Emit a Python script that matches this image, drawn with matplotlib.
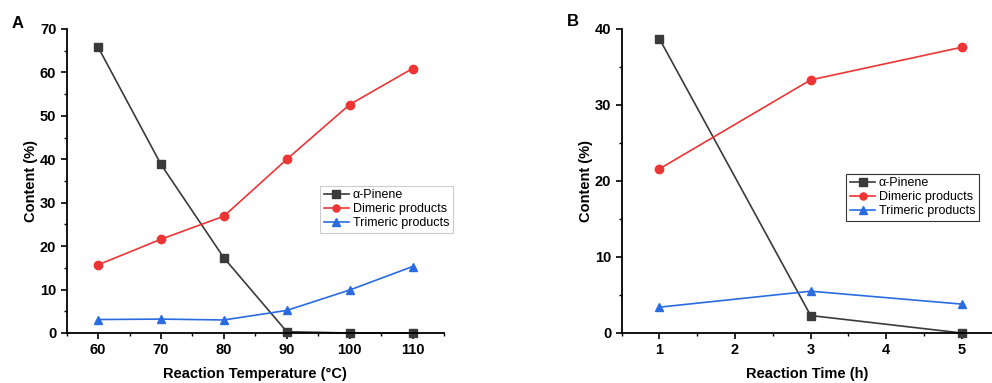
import numpy as np
import matplotlib.pyplot as plt
from matplotlib.ticker import MultipleLocator

plt.rcParams['font.family'] = ['Liberation Sans', 'DejaVu Sans']

# Panel A: Reaktionstemperatur
temp = [60, 70, 80, 90, 100, 110]
pinene_a = [65.8, 38.8, 17.3, 0.3, 0.0, 0.0]
dimer_a = [15.7, 21.6, 26.9, 40.0, 52.6, 60.9]
trimer_a = [3.1, 3.2, 3.0, 5.2, 9.9, 15.3]

# Panel B: Reaktionszeit
time_h = [1, 3, 5]
pinene_b = [38.7, 2.3, 0.0]
dimer_b = [21.6, 33.3, 37.6]
trimer_b = [3.4, 5.5, 3.8]

names = ["\u03b1-Pinene", "Dimeric products", "Trimeric products"]
colors = ['#3a3a3a', '#ee3535', '#2a6ce0']
markers = ['s', 'o', '^']

fig = plt.figure(figsize=(9.92, 3.83), dpi=100)
W, H = 992, 383
axA = fig.add_axes([66.7 / W, 1 - 333 / H, 377.3 / W, 304 / H])
axB = fig.add_axes([621.7 / W, 1 - 333 / H, 370.3 / W, 304 / H])


def style(ax):
    for s in ['top', 'right']:
        ax.spines[s].set_visible(False)
    for s in ['left', 'bottom']:
        ax.spines[s].set_linewidth(1.3)
    ax.tick_params(which='major', direction='out', length=4, width=1.2, labelsize=10.5)
    ax.tick_params(which='minor', direction='out', length=2.5, width=1.0)
    for lab in ax.get_xticklabels() + ax.get_yticklabels():
        lab.set_fontweight('bold')
    ax.set_ylabel("Content (%)", fontsize=10.5, fontweight='bold', labelpad=1)


for ax, x, series in [(axA, temp, [pinene_a, dimer_a, trimer_a]),
                      (axB, time_h, [pinene_b, dimer_b, trimer_b])]:
    for y, c, m, n in zip(series, colors, markers, names):
        ax.plot(x, y, color=c, marker=m, markersize=6, linewidth=1.2, label=n, clip_on=False)

axA.set_xlim(55, 115)
axA.set_ylim(0, 70)
axA.xaxis.set_major_locator(MultipleLocator(10))
axA.xaxis.set_minor_locator(MultipleLocator(5))
axA.yaxis.set_major_locator(MultipleLocator(10))
axA.yaxis.set_minor_locator(MultipleLocator(5))
axA.set_xlabel("Reaction Temperature (\u00b0C)", fontsize=10.5, fontweight='bold', labelpad=7)

axB.set_xlim(0.5, 5.4)
axB.set_ylim(0, 40)
axB.xaxis.set_major_locator(MultipleLocator(1))
axB.xaxis.set_minor_locator(MultipleLocator(0.5))
axB.yaxis.set_major_locator(MultipleLocator(10))
axB.yaxis.set_minor_locator(MultipleLocator(5))
axB.set_xlabel("Reaction Time (h)", fontsize=10.5, fontweight='bold', labelpad=7)

style(axA)
style(axB)

legA = axA.legend(loc='upper left', bbox_to_anchor=(0.655, 0.505), fontsize=9,
                  handlelength=2.0, handletextpad=0.3, labelspacing=0.15,
                  borderpad=0.3, fancybox=False, framealpha=1, markerscale=0.85)
legA.get_frame().set_edgecolor('#cccccc')
legA.get_frame().set_linewidth(0.8)
legB = axB.legend(loc='upper left', bbox_to_anchor=(0.59, 0.545), fontsize=9,
                  handlelength=2.0, handletextpad=0.3, labelspacing=0.15,
                  borderpad=0.3, fancybox=False, framealpha=1, markerscale=0.85)
legB.get_frame().set_edgecolor('#333333')
legB.get_frame().set_linewidth(0.8)

fig.text(12 / W, 1 - 23 / H, "A", fontsize=12, fontweight='bold', va='center')
fig.text(567 / W, 1 - 22 / H, "B", fontsize=12, fontweight='bold', va='center')

fig.savefig("out.png", dpi=100)
